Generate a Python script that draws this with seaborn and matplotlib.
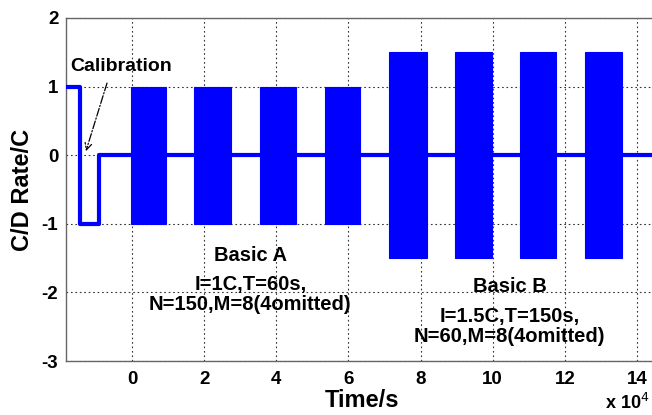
import numpy as np
import pandas as pd
import matplotlib
matplotlib.use("Agg")
import matplotlib.pyplot as plt
from matplotlib.ticker import FuncFormatter, FixedLocator
import seaborn as sns

# ---- data (time in seconds, rate in C) ----
step_time = [-1.95e4, -1.44e4, -1.44e4, -0.92e4, -0.92e4, 14.8e4]
step_rate = [1, 1, -1, -1, 0, 0]

blockA_start = [-0.03e4, 1.73e4, 3.56e4, 5.36e4]
blockA_end = [0.94e4, 2.75e4, 4.55e4, 6.33e4]
blockA_amp = [1.0, 1.0, 1.0, 1.0]

blockB_start = [7.14e4, 8.97e4, 10.75e4, 12.56e4]
blockB_end = [8.17e4, 9.97e4, 11.75e4, 13.58e4]
blockB_amp = [1.5, 1.5, 1.5, 1.5]

xticks = [0, 2e4, 4e4, 6e4, 8e4, 10e4, 12e4, 14e4]
yticks = [-3, -2, -1, 0, 1, 2]

sns.set_style("white")
plt.rcParams['font.family'] = ['Liberation Sans', 'DejaVu Sans']
plt.rcParams['axes.unicode_minus'] = False
plt.rcParams['text.color'] = 'black'
plt.rcParams['axes.labelcolor'] = 'black'

fig = plt.figure(figsize=(6.52, 4.15), dpi=100)
ax_w = 1.01 - 66/652
ax = fig.add_axes([66/652, (415-361)/415, ax_w, (361-18)/415])

BLUE = '#0000ff'
df = pd.DataFrame({'t': step_time, 'rate': step_rate})
sns.lineplot(data=df, x='t', y='rate', sort=False, estimator=None, color=BLUE,
             linewidth=3.0, ax=ax, zorder=3)

for s, e, a in zip(blockA_start + blockB_start, blockA_end + blockB_end, blockA_amp + blockB_amp):
    ax.bar(s, 2 * a, bottom=-a, width=e - s, align='edge', color=BLUE,
           edgecolor=BLUE, linewidth=0.8, zorder=4)

ax.set_xlim(-1.83e4, 14.6e4)
ax.set_ylim(-3, 2)
ax.xaxis.set_major_locator(FixedLocator(xticks))
ax.yaxis.set_major_locator(FixedLocator(yticks))
ax.xaxis.set_major_formatter(FuncFormatter(lambda v, p: f"{v/1e4:g}"))
ax.yaxis.set_major_formatter(FuncFormatter(lambda v, p: f"{v:g}"))

ax.grid(True, color='black', linestyle=(0, (1.5, 2.5)), linewidth=0.8, alpha=0.8)
ax.set_axisbelow(True)
for sp in ax.spines.values():
    sp.set_color('#666666')
    sp.set_linewidth(1.0)

ax.tick_params(direction='in', length=4, width=0.8, colors='#333333',
               labelsize=13.5)
ax.tick_params(axis='y', pad=5.5)
ax.tick_params(axis='x', pad=7)
for lab in ax.get_xticklabels() + ax.get_yticklabels():
    lab.set_fontweight('bold')
    lab.set_color('black')

ax.set_xlabel('Time/s', fontsize=17, fontweight='bold', labelpad=1)
ax.set_ylabel('C/D Rate/C', fontsize=17, fontweight='bold')
fig_w_px = 652
ax.yaxis.set_label_coords((34 - 66) / (ax_w * fig_w_px), 0.5)

fig.text(605/652, 1 - 409/415, r'x 10$^{4}$', fontsize=13, fontweight='bold',
         ha='left', va='baseline')

ax.text(-1.71e4, 1.3, 'Calibration', fontsize=14, fontweight='bold',
        ha='left', va='center')
ax.annotate('', xy=(-1.3e4, 0.02), xytext=(-0.67e4, 1.09),
            arrowprops=dict(arrowstyle='->', color='black', linewidth=0.9,
                            linestyle='-.', mutation_scale=12), zorder=6)

ax.text(3.28e4, -1.46, 'Basic A', fontsize=14.5, fontweight='bold',
        ha='center', va='center', zorder=6)
ax.text(3.28e4, -2.03, 'I=1C,T=60s,\nN=150,M=8(4omitted)', fontsize=14.5,
        fontweight='bold', ha='center', va='center', linespacing=1.1, zorder=6)
ax.text(10.47e4, -1.91, 'Basic B', fontsize=14.5, fontweight='bold',
        ha='center', va='center', zorder=6)
ax.text(10.47e4, -2.5, 'I=1.5C,T=150s,\nN=60,M=8(4omitted)', fontsize=14.5,
        fontweight='bold', ha='center', va='center', linespacing=1.1, zorder=6)

fig.savefig('out.png', dpi=100)
